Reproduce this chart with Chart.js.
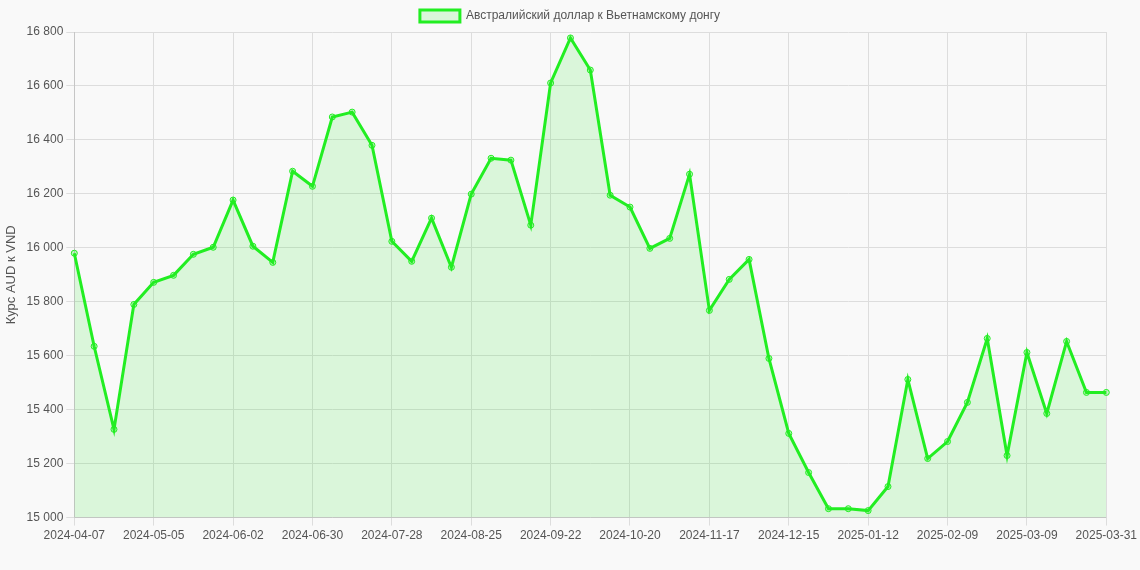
<!DOCTYPE html>
<html>
<head>
<meta charset="utf-8">
<script src="https://cdn.jsdelivr.net/npm/chart.js@4"></script>
<style>
  html, body { margin: 0; padding: 0; background: #f9f9f9; }
  #wrap { width: 1140px; height: 546px; }
</style>
</head>
<body>
<div id="wrap"><canvas id="chart"></canvas></div>
<script>
const labels = [
  '2024-04-07','2024-04-14','2024-04-21','2024-04-28','2024-05-05','2024-05-12','2024-05-19','2024-05-26',
  '2024-06-02','2024-06-09','2024-06-16','2024-06-23','2024-06-30','2024-07-07','2024-07-14','2024-07-21',
  '2024-07-28','2024-08-04','2024-08-11','2024-08-18','2024-08-25','2024-09-01','2024-09-08','2024-09-15',
  '2024-09-22','2024-09-29','2024-10-06','2024-10-13','2024-10-20','2024-10-27','2024-11-03','2024-11-10',
  '2024-11-17','2024-11-24','2024-12-01','2024-12-08','2024-12-15','2024-12-22','2024-12-29','2025-01-05',
  '2025-01-12','2025-01-19','2025-01-26','2025-02-02','2025-02-09','2025-02-16','2025-02-23','2025-03-02',
  '2025-03-09','2025-03-16','2025-03-23','2025-03-30','2025-03-31'
];
const rates = [
  15980, 15635, 15327, 15790, 15872, 15898, 15976, 16002,
  16177, 16006, 15946, 16284, 16228, 16485, 16503, 16380,
  16024, 15950, 16110, 15928, 16199, 16332, 16325, 16084,
  16611, 16778, 16659, 16195, 16151, 15998, 16035, 16273,
  15768, 15883, 15957, 15590, 15312, 15167, 15033, 15033,
  15026, 15115, 15512, 15219, 15282, 15427, 15664, 15230,
  15612, 15386, 15653, 15464, 15464
];
const yTicks = [15000, 15200, 15400, 15600, 15800, 16000, 16200, 16400, 16600, 16800];

const fmt = v => String(v).replace(/\B(?=(\d{3})+(?!\d))/g, ' ');

new Chart(document.getElementById('chart').getContext('2d'), {
  type: 'line',
  data: {
    labels: labels,
    datasets: [{
      label: 'Австралийский доллар к Вьетнамскому донгу',
      data: rates,
      borderColor: '#22ee22',
      backgroundColor: 'rgba(40, 230, 40, 0.15)',
      borderWidth: 3,
      pointRadius: 3,
      pointBorderWidth: 1,
      pointBackgroundColor: 'rgba(40, 230, 40, 0.25)',
      fill: true,
      tension: 0
    }]
  },
  options: {
    responsive: true,
    maintainAspectRatio: false,
    animation: false,
    plugins: {
      legend: {
        labels: { font: { family: 'Arial, Liberation Sans', size: 12 }, color: '#555' }
      }
    },
    scales: {
      x: {
        ticks: {
          autoSkip: false,
          maxRotation: 0,
          font: { family: 'Arial, Liberation Sans', size: 12 },
          color: '#555',
          callback: function (v, i) {
            return (i % 4 === 0 || i === labels.length - 1) ? labels[i] : null;
          }
        },
        grid: { color: '#ddd' }
      },
      y: {
        min: 15000,
        max: 16800,
        afterBuildTicks: axis => { axis.ticks = yTicks.map(v => ({ value: v })); },
        ticks: {
          font: { family: 'Arial, Liberation Sans', size: 12 },
          color: '#555',
          callback: v => fmt(v)
        },
        title: {
          display: true,
          text: 'Курс AUD к VND',
          font: { family: 'Arial, Liberation Sans', size: 13 },
          color: '#555'
        },
        grid: { color: '#ddd' }
      }
    }
  }
});
</script>
</body>
</html>
